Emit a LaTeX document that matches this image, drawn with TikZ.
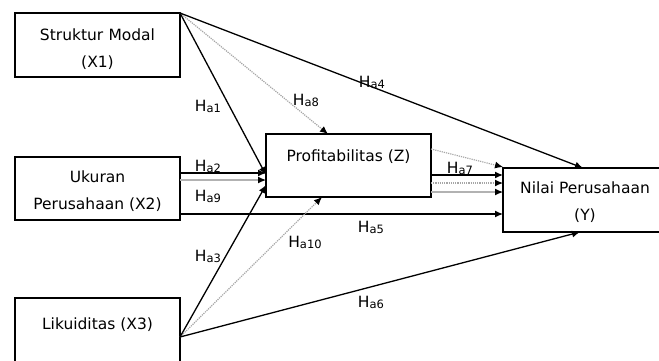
\documentclass[tikz,border=0pt]{standalone}
\usepackage{fontspec}
\setmainfont{DejaVu Sans}
\usetikzlibrary{arrows.meta}
\newcommand\hlab[1]{H\raisebox{-1pt}{\fontsize{11.5}{11.5}\selectfont #1}}
\begin{document}
\begin{tikzpicture}[x=1pt,y=-1pt,
  box/.style={draw,line width=1.9pt},
  txt/.style={align=center,font=\fontsize{15.5}{27}\selectfont,inner sep=0pt},
  lab/.style={font=\fontsize{15.5}{18}\selectfont,inner sep=0pt},
  arr/.style={line width=1.3pt,-{Latex[length=8pt,width=7pt]}},
  dot/.style={line width=1.2pt,gray!70,densely dotted,arrows={-{Latex[length=8pt,width=7pt,fill=black,color=black]}}},
  grey/.style={line width=1.2pt,gray!60,-{Latex[length=8pt,width=7pt,color=black,fill=black]}}]
\useasboundingbox (0,0) rectangle (659,360);
\fill[white] (0,0) rectangle (659,360);
% boxes
\draw[box] (15,13) rectangle (180,77);
\draw[box] (15,157) rectangle (180,220);
\draw[box] (15,298) rectangle (180,380);
\draw[box] (266,134) rectangle (431,197);
\draw[box] (503,168) rectangle (700,232);
% texts
\node[txt] (t1) at (97.5,49) {Struktur\,\,Modal\\(X1)};
\node[txt] (t2) at (97.5,191) {Ukuran\\Perusahaan (X2)};
\node[txt] (t3) at (97.5,325) {Likuiditas (X3)};
\node[txt] (tz) at (348.5,157) {Profitabilitas (Z)};
\node[txt] (ty) at (585,202.5) {Nilai Perusahaan\\(Y)};
% coordinates
\coordinate (x1c) at (180,13);
\coordinate (x3c) at (180,337);
\coordinate (x2a) at (180,173);
\coordinate (x2b) at (180,180);
\coordinate (x2c) at (180,214);
\coordinate (z1) at (266,175);
\coordinate (z2) at (266,173);
\coordinate (z9) at (266,180);
\coordinate (z3) at (266,185);
\coordinate (ztop) at (328,134);
\coordinate (zbot) at (322,197);
\coordinate (zr0) at (431,149);
\coordinate (zr1) at (431,175);
\coordinate (zr2) at (431,183);
\coordinate (zr3) at (431,192);
\coordinate (y0) at (503,167);
\coordinate (y1) at (503,175);
\coordinate (y2) at (503,183);
\coordinate (y3) at (503,192);
\coordinate (y5) at (503,214);
\coordinate (ytop) at (583,168);
\coordinate (ybot) at (580,232);
% connectors
\draw[dot] (x1c) -- (ztop);
\draw[arr] (x1c) -- (z1);
\draw[arr] (x1c) -- (ytop);
\draw[grey] (x2b) -- (z9);
\draw[arr] (x2a) -- (z2);
\draw[arr] (x2c) -- (y5);
\draw[dot] (x3c) -- (zbot);
\draw[arr] (x3c) -- (z3);
\draw[arr] (x3c) -- (ybot);
\draw[dot] (zr0) -- (y0);
\draw[arr] (zr1) -- (y1);
\draw[dot] (zr2) -- (y2);
\draw[grey] (zr3) -- (y3);
% labels
\node[lab] (h1) at (208,106) {\hlab{a1}};
\node[lab] (h8) at (306,100) {\hlab{a8}};
\node[lab] (h4) at (372,82) {\hlab{a4}};
\node[lab] (h2) at (208,166) {\hlab{a2}};
\node[lab] (h9) at (208,196) {\hlab{a9}};
\node[lab] (h3) at (208,256) {\hlab{a3}};
\node[lab] (h10) at (305,242) {\hlab{a10}};
\node[lab] (h5) at (371,227) {\hlab{a5}};
\node[lab] (h6) at (371,302) {\hlab{a6}};
\node[lab] (h7) at (460,168) {\hlab{a7}};
\end{tikzpicture}
\end{document}
